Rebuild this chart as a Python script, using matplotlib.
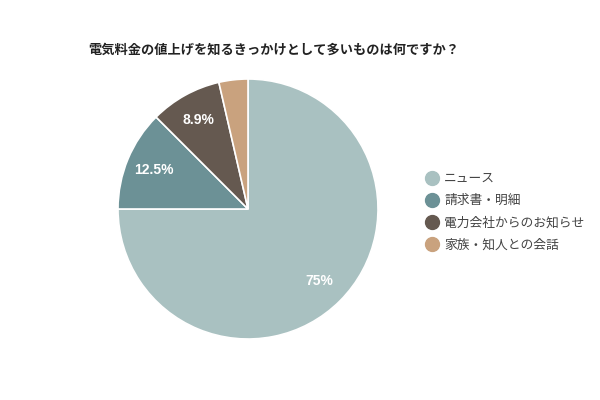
import matplotlib
matplotlib.use("Agg")
import matplotlib.pyplot as plt
from matplotlib.lines import Line2D
import numpy as np

plt.rcParams['font.family'] = ['Noto Sans CJK JP', 'DejaVu Sans']

title = "電気料金の値上げを知るきっかけとして多いものは何ですか？"
categories = ["ニュース", "請求書・明細", "電力会社からのお知らせ", "家族・知人との会話"]
values = [75, 12.5, 8.9, 3.6]
labels_text = ["75%", "12.5%", "8.9%", ""]
colors = ["#a9c1c1", "#6c9196", "#655950", "#c9a27e"]

fig = plt.figure(figsize=(6, 4), dpi=100)
fig.patch.set_facecolor("white")

r = 130
cx, cy = 248, 209
ax = fig.add_axes([(cx - r) / 600, 1 - (cy + r) / 400, 2 * r / 600, 2 * r / 400])
wedges, _ = ax.pie(values, colors=colors, startangle=90, counterclock=False,
                   wedgeprops=dict(edgecolor="white", linewidth=1.2), radius=1.0)
ax.set_xlim(-1, 1)
ax.set_ylim(-1, 1)
ax.set_aspect("equal")

start = 90.0
for v, t in zip(values, labels_text):
    ang = start - v / 100 * 360 / 2
    start -= v / 100 * 360
    if t:
        d = 0.78
        ax.text(d * np.cos(np.radians(ang)), d * np.sin(np.radians(ang)), t,
                ha="center", va="center", color="white", fontsize=10,
                fontweight="bold", family=["Liberation Sans", "DejaVu Sans"])

fig.text(88 / 600, 1 - 50 / 400, title, ha="left", va="center",
         fontsize=9.5, fontweight="bold", color="#222222")

handles = [Line2D([0], [0], marker="o", linestyle="none", markersize=10,
                  markerfacecolor=c, markeredgecolor=c) for c in colors]
leg = fig.legend(handles, categories, loc="upper left",
                 bbox_to_anchor=(420 / 600, 1 - 167 / 400), frameon=False,
                 fontsize=9.2, labelspacing=0.72, handletextpad=0.5,
                 handlelength=1.0, borderaxespad=0)
for txt in leg.get_texts():
    txt.set_color("#444444")

fig.savefig("out.png", dpi=100, facecolor="white")
